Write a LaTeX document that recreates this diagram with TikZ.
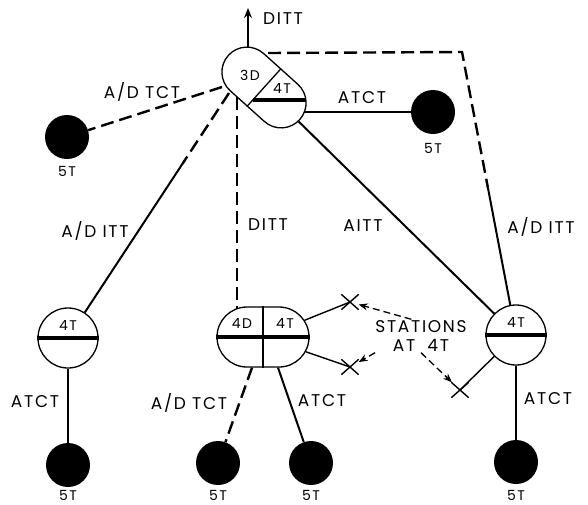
\documentclass[tikz,border=0pt]{standalone}
\usepackage{fontspec}
\setmainfont{Poppins}[LetterSpace=10]
\usetikzlibrary{arrows.meta,calc,shapes.misc}

\begin{document}
\begin{tikzpicture}[x=1pt,y=-1pt,>=Stealth]
\tikzstyle{lbl}=[font=\fontsize{17}{19}\selectfont,inner sep=1pt,text depth=0pt]
\tikzstyle{sml}=[font=\fontsize{14}{16}\selectfont,inner sep=1pt,text depth=0pt]
\tikzstyle{sw}=[circle,draw,line width=1.3pt,minimum size=60pt,inner sep=0pt]
\tikzstyle{stn}=[circle,fill=black,minimum size=44pt,inner sep=0pt]
\tikzstyle{trk}=[line width=2pt]
\tikzstyle{dtrk}=[line width=2.4pt,dash pattern=on 13pt off 6pt]
\tikzstyle{bar}=[line width=3.5pt]
\tikzstyle{xm}=[cross out,draw,line width=1.4pt,minimum width=16pt,minimum height=14pt,inner sep=0pt]
\tikzstyle{ptr}=[-{Stealth[length=9pt,width=7pt]},line width=1.3pt,dash pattern=on 7pt off 4pt]
\useasboundingbox (0,0) rectangle (588,504);

% switching centres
\node[rounded rectangle,draw,line width=1.3pt,minimum width=96pt,minimum height=50pt,inner sep=0pt,rotate=-42] (cap) at (264,87.5) {};
\draw[line width=1.3pt] (cap.north) -- (cap.south);
\draw[bar] (252.5,100) -- (305.5,100);
\node[sml] (c3d) at (250,75) {3D};
\node[sml] (c4t) at (282,88) {4T};

\node[sw] (l4) at (68,338) {};
\draw[bar] (l4.west) -- (l4.east);
\node[sml] at (68,325) {4T};

\node[sw] (r4) at (516,335) {};
\draw[bar] (r4.west) -- (r4.east);
\node[sml] at (516,322) {4T};

\node[rounded rectangle,draw,line width=1.3pt,minimum width=92pt,minimum height=60pt,inner sep=0pt] (mid) at (263,337) {};
\draw[line width=2pt] (mid.north) -- (mid.south);
\draw[bar] (mid.west) -- (mid.east);
\node[sml] (m4d) at (242,323) {4D};
\node[sml] (m4t) at (285,323) {4T};

% end stations
\node[stn] (btl) at (67,137) {};
\node[sml] at (67,171) {5T};
\node[stn] (btr) at (433,112) {};
\node[sml] at (433,148) {5T};
\node[stn] (bl) at (68,465) {};
\node[sml] at (68,495) {5T};
\node[stn] (bm1) at (218,463) {};
\node[sml] at (218,495) {5T};
\node[stn] (bm2) at (311,463) {};
\node[sml] at (311,495) {5T};
\node[stn] (br) at (516,462) {};
\node[sml] at (516,495) {5T};

\node[xm] (x1) at (350,302) {};
\node[xm] (x2) at (350,367) {};
\node[xm] (x3) at (460,390) {};

\coordinate (capT) at (248,47);
\coordinate (upEnd) at (248,8);
\coordinate (capNE) at (268,53);
\coordinate (bend) at (462,52);
\coordinate (capE) at (304,112);
\coordinate (capW) at (222,87);
\coordinate (capSW) at (229,93);
\coordinate (capS) at (237,97);
\coordinate (midTop) at (237,309);

% trunks
\draw[trk,->,>={Stealth[length=10pt,width=8pt]}] (capT) -- (upEnd);
\draw[dtrk] (capNE) -- (bend) -- ($(bend)!0.48!(r4)$);
\draw[trk] ($(bend)!0.48!(r4)$) -- (r4);
\draw[trk] (capE) -- (capE -| btr.west);
\draw[dtrk] (capW) -- (btl);
\draw[dtrk] (capSW) -- ($(capSW)!0.29!(l4)$);
\draw[trk] ($(capSW)!0.29!(l4)$) -- (l4);
\draw[dtrk] (capS) -- (midTop);
\draw[trk] (cap) -- (r4);
\draw[trk] (l4) -- (bl);
\draw[trk] (r4) -- (br);
\draw[dtrk] ($(mid.south)+(-11,0)$) -- (bm1);
\draw[trk] ($(mid.south)+(15,0)$) -- (bm2);
\draw[trk,line width=1.4pt] (mid) -- (x1.center);
\draw[trk,line width=1.4pt] (mid) -- (x2.center);
\draw[trk,line width=1.4pt] (r4) -- (x3.center);

% labels
\node[lbl,anchor=west] at (262,19) {DITT};
\node[lbl] at (142,90) {A/D TCT};
\node[lbl] at (362,97) {ATCT};
\node[lbl] at (95,229) {A/D ITT};
\node[lbl] at (268,225) {DITT};
\node[lbl] at (363,226) {AITT};
\node[lbl] at (541,225) {A/D ITT};
\node[lbl] at (35,401) {ATCT};
\node[lbl] at (189,401) {A/D TCT};
\node[lbl] at (322,400) {ATCT};
\node[lbl] at (548,398) {ATCT};
\node[lbl,align=center] (st) at (421,336) {STATIONS\\AT\hspace{6pt} 4T};
\draw[ptr] (st.120) -- (x1);
\draw[ptr] (st.200) -- (x2);
\draw[ptr] (st.south) -- (x3);
\end{tikzpicture}
\end{document}
